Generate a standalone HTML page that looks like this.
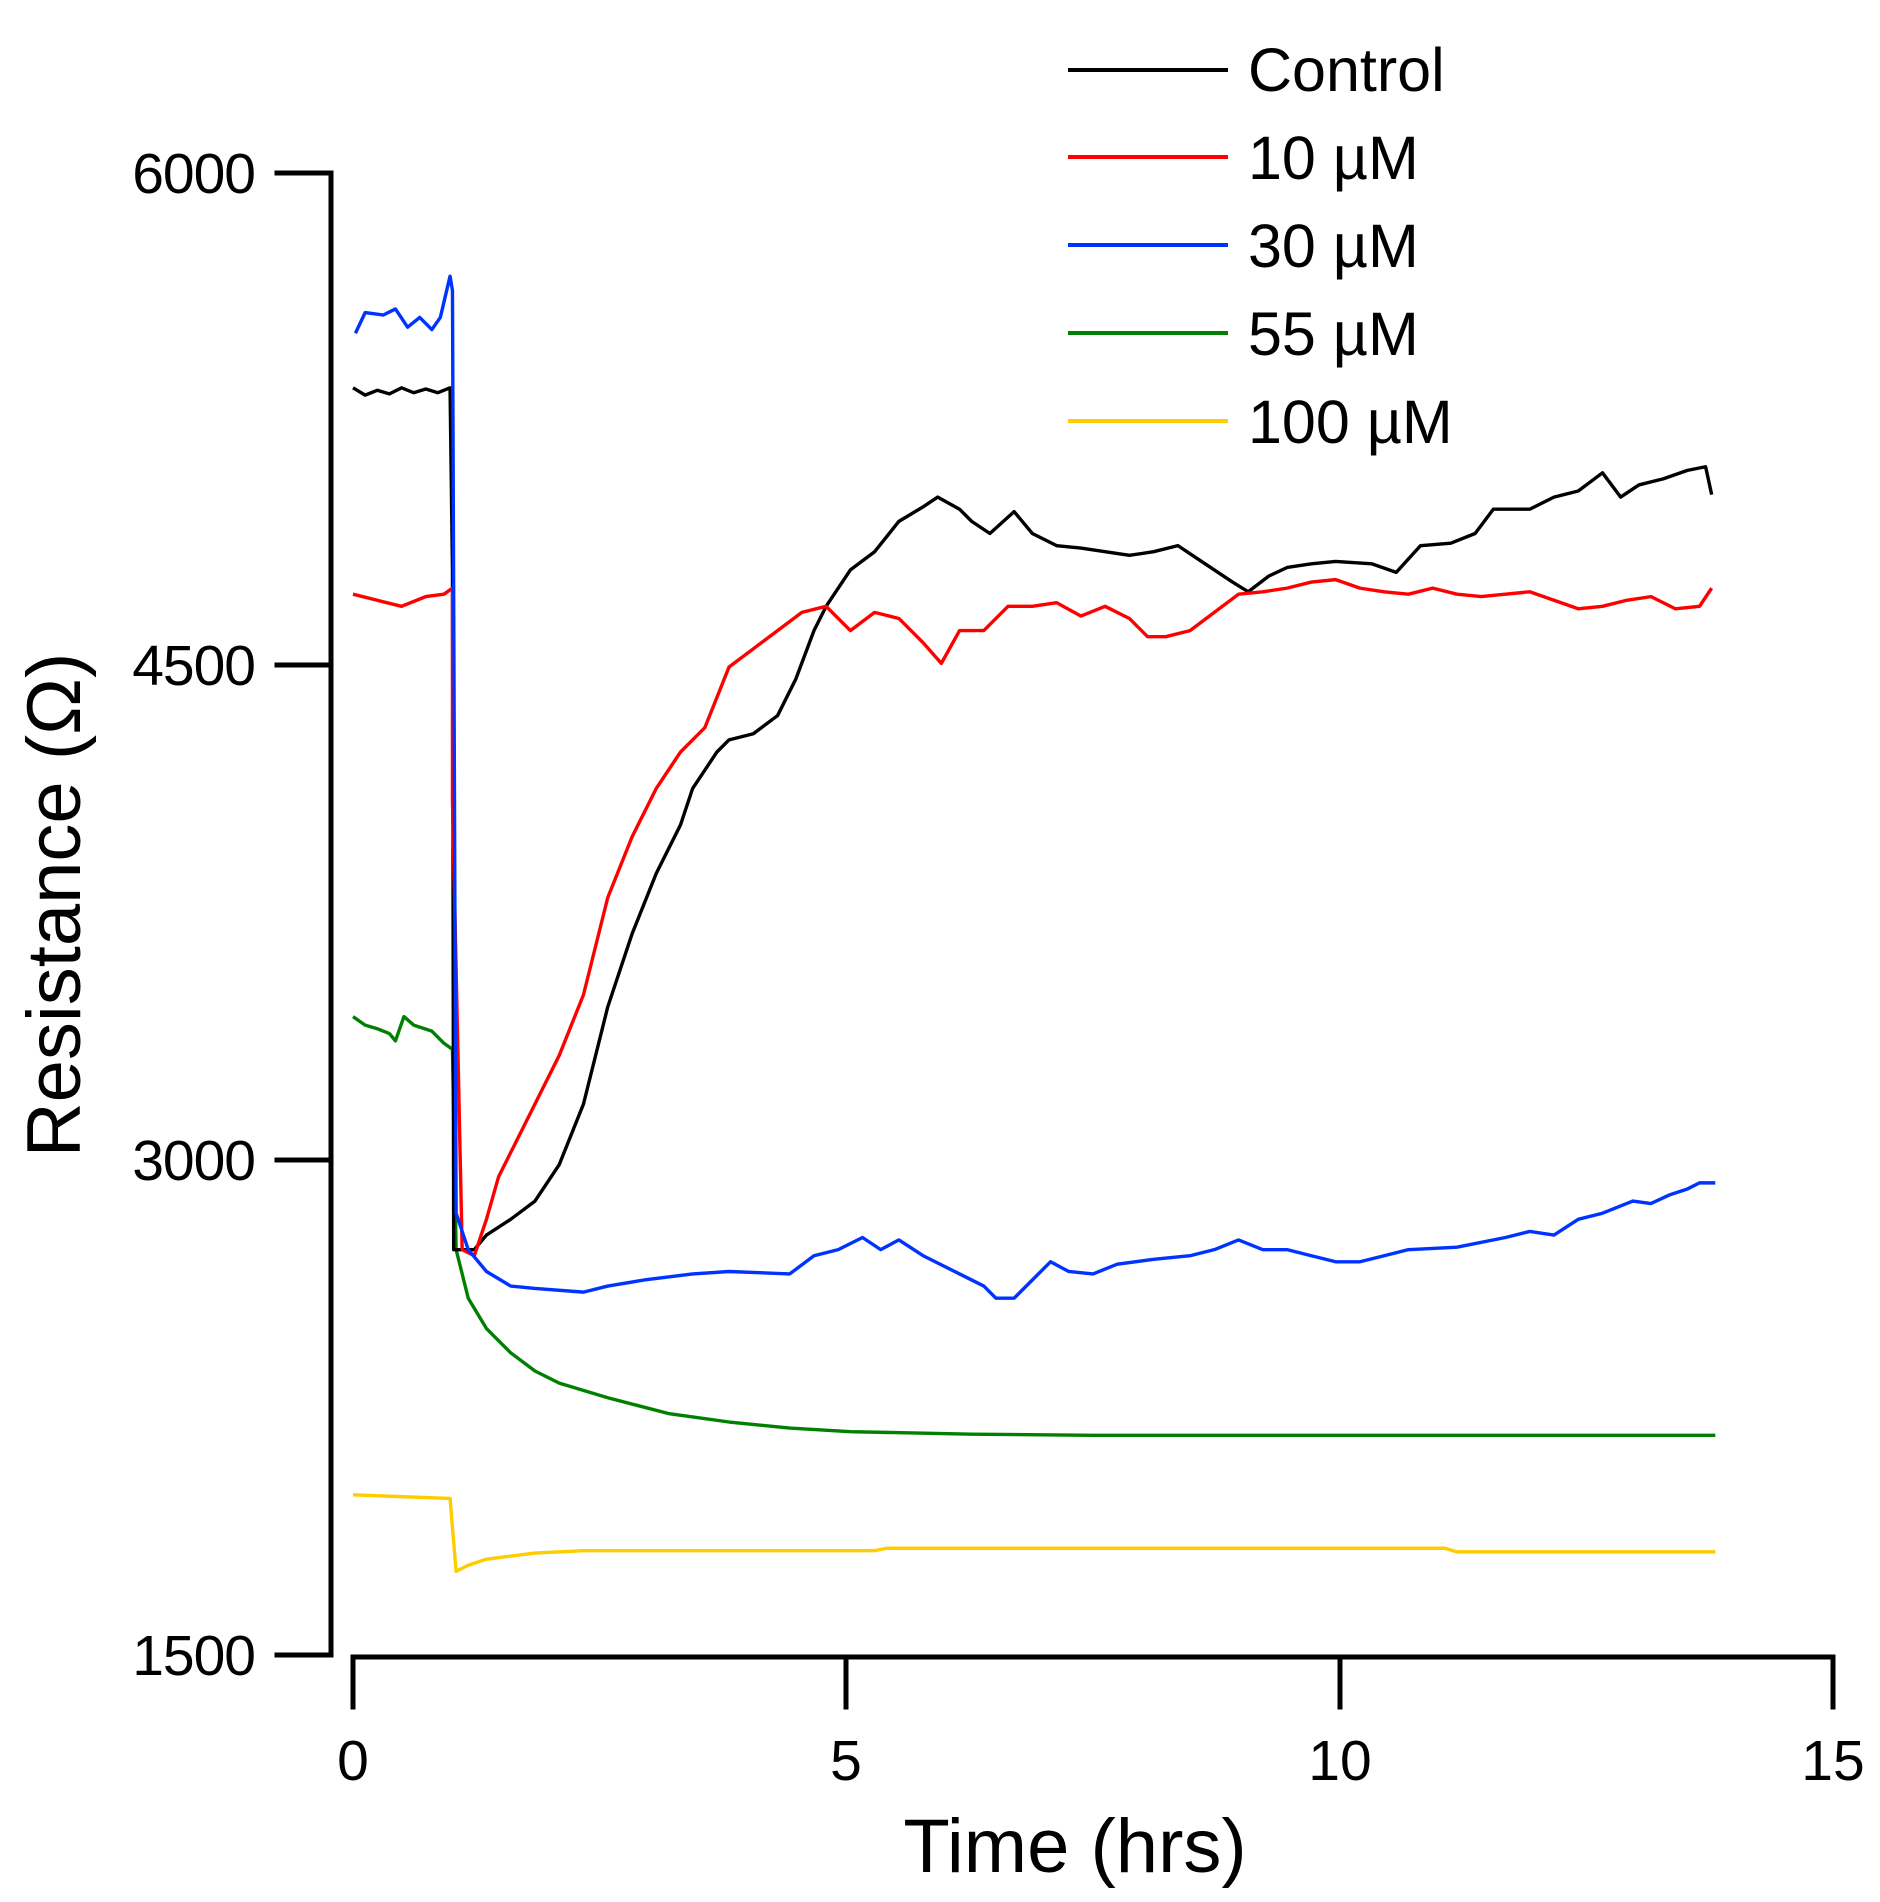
<!DOCTYPE html>
<html><head><meta charset="utf-8"><style>
html,body{margin:0;padding:0;background:#fff;}
svg{display:block;}
text{font-family:"Liberation Sans",Arial,sans-serif;fill:#000;}
</style></head><body>
<svg width="1880" height="1902" viewBox="0 0 1880 1902" xmlns="http://www.w3.org/2000/svg">
<g stroke="#000" stroke-width="5" fill="none" stroke-linecap="square">
<path d="M331,173 L331,1655"/>
<path d="M277,173 L331,173 M277,665 L331,665 M277,1160 L331,1160 M277,1655 L331,1655"/>
<path d="M353,1657 L1833,1657"/>
<path d="M353,1657 L353,1707 M846,1657 L846,1707 M1340,1657 L1340,1707 M1833,1657 L1833,1707"/>
</g>
<g font-size="57" text-anchor="end" letter-spacing="-1">
<text x="255" y="193">6000</text>
<text x="255" y="685">4500</text>
<text x="255" y="1180">3000</text>
<text x="255" y="1675">1500</text>
</g>
<g font-size="57" text-anchor="middle">
<text x="353" y="1780">0</text>
<text x="846" y="1780">5</text>
<text x="1340" y="1780">10</text>
<text x="1833" y="1780">15</text>
</g>
<text x="1075" y="1872" font-size="76" text-anchor="middle">Time (hrs)</text>
<text transform="translate(80,905) rotate(-90)" font-size="76" text-anchor="middle">Resistance (Ω)</text>
<g stroke-width="4">
<line x1="1068" y1="70" x2="1228" y2="70" stroke="#000"/>
<line x1="1068" y1="157" x2="1228" y2="157" stroke="#ff0000"/>
<line x1="1068" y1="245" x2="1228" y2="245" stroke="#0033ff"/>
<line x1="1068" y1="333" x2="1228" y2="333" stroke="#008000"/>
<line x1="1068" y1="421" x2="1228" y2="421" stroke="#ffcc00"/>
</g>
<g font-size="61">
<text x="1248" y="91">Control</text>
<text x="1248" y="179">10 µM</text>
<text x="1248" y="267">30 µM</text>
<text x="1248" y="355">55 µM</text>
<text x="1248" y="443">100 µM</text>
</g>
<g transform="matrix(1.2131,0,0,1.2138,1.2,-0.57)" fill="none" stroke-width="2.8" stroke-linejoin="round">
<polyline stroke="#ffcc00" points="290,1232 370,1235 375,1295 385,1290 400,1285 440,1280 480,1278 600,1278 720,1278 730,1276 1190,1276 1200,1279 1413,1279"/>
<polyline stroke="#008000" points="290,838 300,845 310,848 320,852 325,858 332,838 340,845 355,850 365,860 372,865 373,920 375,1030 385,1070 400,1095 420,1115 440,1130 460,1140 500,1152 550,1165 600,1172 650,1177 700,1180 800,1182 900,1183 1000,1183 1100,1183 1200,1183 1300,1183 1413,1183"/>
<polyline stroke="#000" points="290,320 300,326 310,322 320,325 330,320 340,324 350,321 360,324 370,320 372,470 373,1030 390,1030 400,1018 420,1005 440,990 460,960 480,910 500,830 520,770 540,720 560,680 570,650 590,620 600,610 620,605 640,590 655,560 670,520 680,500 700,470 720,455 740,430 760,418 772,410 790,420 800,430 815,440 835,422 850,440 870,450 890,452 910,455 930,458 950,455 970,450 985,460 1000,470 1015,480 1028,488 1045,475 1060,468 1080,465 1100,463 1130,465 1150,472 1170,450 1195,448 1215,440 1230,420 1260,420 1280,410 1300,405 1320,390 1335,410 1350,400 1370,395 1390,388 1405,385 1410,408"/>
<polyline stroke="#ff0000" points="290,490 310,495 330,500 350,492 365,490 372,485 372,660 380,1030 390,1035 400,1005 410,970 420,950 440,910 460,870 480,820 500,740 520,690 540,650 560,620 580,600 600,550 620,535 640,520 660,505 680,500 700,520 720,505 740,510 760,530 775,547 790,520 810,520 830,500 850,500 870,497 890,508 910,500 930,510 945,525 960,525 980,520 1000,505 1020,490 1040,488 1060,485 1080,480 1100,478 1120,485 1140,488 1160,490 1180,485 1200,490 1220,492 1240,490 1260,488 1280,495 1300,502 1320,500 1340,495 1360,492 1380,502 1400,500 1410,485"/>
<polyline stroke="#0033ff" points="292,275 300,258 315,260 325,255 335,270 345,262 355,272 362,262 370,228 372,240 375,1000 385,1030 400,1048 420,1060 440,1062 480,1065 500,1060 530,1055 570,1050 600,1048 650,1050 670,1035 690,1030 710,1020 725,1030 740,1022 760,1035 790,1050 810,1060 820,1070 835,1070 850,1055 865,1040 880,1048 900,1050 920,1042 950,1038 980,1035 1000,1030 1020,1022 1040,1030 1060,1030 1080,1035 1100,1040 1120,1040 1140,1035 1160,1030 1200,1028 1240,1020 1260,1015 1280,1018 1300,1005 1320,1000 1345,990 1360,992 1375,985 1390,980 1400,975 1413,975"/>
</g>
</svg>
</body></html>
